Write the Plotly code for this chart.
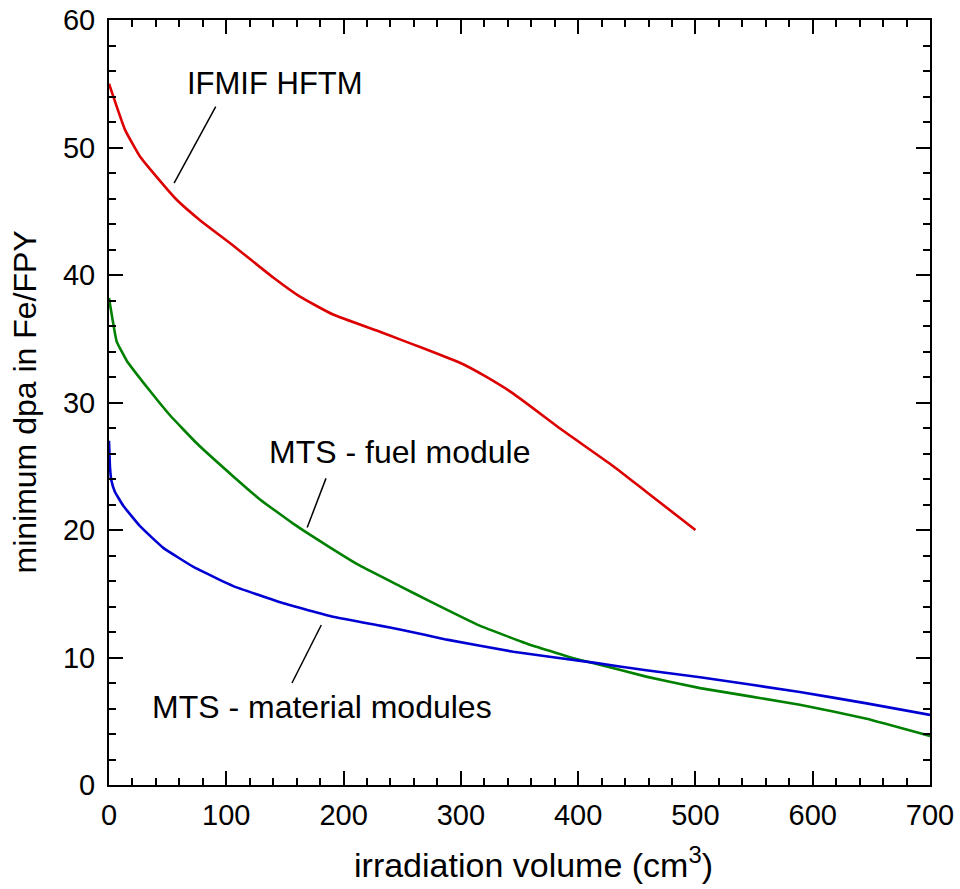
import plotly.graph_objects as go

# Data
red_x = [0, 13.6, 26.4, 40.6, 57.7, 77.6, 106, 140, 162.8, 191, 231, 248, 268, 302, 320, 344.7, 387, 430, 458, 500]
red_y = [55.0, 51.4, 49.3, 47.7, 45.9, 44.3, 42.3, 39.8, 38.3, 36.9, 35.55, 34.95, 34.25, 33.0, 32.1, 30.7, 27.8, 25.0, 23.0, 20.0]

green_x = [0, 6.5, 15, 35, 52, 74.8, 106, 128.7, 157, 185.6, 214, 248, 273.7, 316, 359, 401.6, 415.8, 458, 504, 589, 646, 700]
green_y = [38.2, 34.8, 33.3, 30.9, 29.0, 26.8, 24.2, 22.4, 20.5, 18.8, 17.2, 15.6, 14.4, 12.5, 11.0, 9.8, 9.5, 8.5, 7.6, 6.3, 5.2, 3.85]

blue_x = [0, 0.85, 2, 5, 12.2, 26.4, 46.3, 72, 106, 148.6, 191, 231, 248, 288, 344.7, 413, 458, 504, 589, 646, 700]
blue_y = [27.0, 24.9, 23.9, 23.0, 21.9, 20.3, 18.6, 17.1, 15.6, 14.25, 13.2, 12.5, 12.2, 11.4, 10.45, 9.6, 9.0, 8.45, 7.3, 6.4, 5.5]

labels = ["IFMIF HFTM", "MTS - fuel module", "MTS - material modules"]
label_x = [141.5, 248, 181.6]
label_y = [55.0, 26.1, 6.1]
label_size = [31, 32, 32]
leader_x0 = [91, 185, 181]
leader_y0 = [53.2, 24.05, 12.55]
leader_x1 = [55.5, 169, 156]
leader_y1 = [47.2, 20.2, 8.0]

x_ticks = [0, 100, 200, 300, 400, 500, 600, 700]
y_ticks = [0, 10, 20, 30, 40, 50, 60]

FONT = "Liberation Sans"

fig = go.Figure()
fig.add_trace(go.Scatter(x=red_x, y=red_y, mode="lines", line=dict(color="rgb(220,0,0)", width=2.6, shape="spline", smoothing=0.4)))
fig.add_trace(go.Scatter(x=green_x, y=green_y, mode="lines", line=dict(color="rgb(0,128,0)", width=2.6, shape="spline", smoothing=0.3)))
fig.add_trace(go.Scatter(x=blue_x, y=blue_y, mode="lines", line=dict(color="rgb(0,0,210)", width=2.6, shape="spline", smoothing=0.3)))

for t, x, y, s in zip(labels, label_x, label_y, label_size):
    fig.add_annotation(x=x, y=y, text=t, showarrow=False, xref="x", yref="y",
                       font=dict(family=FONT, size=s, color="black"))
for x0, y0, x1, y1 in zip(leader_x0, leader_y0, leader_x1, leader_y1):
    fig.add_shape(type="line", x0=x0, y0=y0, x1=x1, y1=y1, xref="x", yref="y",
                  line=dict(color="black", width=1.5))

# axis titles as annotations for precise placement
fig.add_annotation(x=0, y=0.5, xref="paper", yref="paper", xanchor="center", yanchor="middle",
                   xshift=-85, textangle=-90, showarrow=False, text="minimum dpa in Fe/FPY",
                   font=dict(family=FONT, size=32, color="black"))
fig.add_annotation(x=0.5, y=0, xref="paper", yref="paper", xanchor="center", yanchor="middle",
                   xshift=14, yshift=-77, showarrow=False, text="irradiation volume (cm<sup>3</sup>)",
                   font=dict(family=FONT, size=34, color="black"))

axis_common = dict(showline=True, linecolor="black", linewidth=2, mirror="allticks",
                   ticks="inside", ticklen=14, tickwidth=2, tickcolor="black",
                   showgrid=False, zeroline=False, automargin=False,
                   ticklabeloverflow="allow",
                   tickfont=dict(family=FONT, size=29, color="black"))

fig.update_xaxes(range=[0, 700], tickvals=x_ticks, ticktext=[str(v) for v in x_ticks],
                 minor=dict(dtick=20, ticklen=7, tickwidth=2, tickcolor="black", ticks="inside"),
                 ticklabelstandoff=3, **axis_common)
fig.update_yaxes(range=[0, 60], tickvals=y_ticks, ticktext=[str(v) for v in y_ticks],
                 minor=dict(dtick=2, ticklen=7, tickwidth=2, tickcolor="black", ticks="inside"),
                 ticklabelstandoff=6, **axis_common)

fig.update_layout(width=960, height=889, margin=dict(l=109, r=30, t=20, b=104),
                  plot_bgcolor="white", paper_bgcolor="white", showlegend=False)

fig.write_html("out.html", config={"displayModeBar": False},
               post_script="document.body.style.margin='0';document.body.style.overflow='hidden';")
